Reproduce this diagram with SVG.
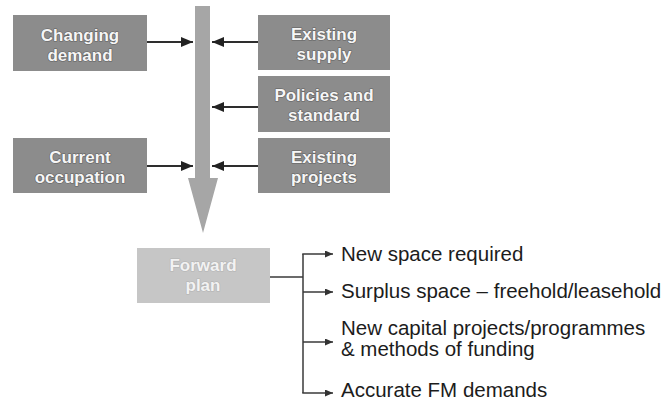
<svg xmlns="http://www.w3.org/2000/svg" width="666" height="402" viewBox="0 0 666 402">
  <style>
    .box { fill: #8c8c8c; }
    .plan { fill: #c6c6c6; }
    .lbl { font-family: "Liberation Sans", Arial, sans-serif; font-weight: bold; font-size: 17px; fill: #f6f6f6; text-anchor: middle; stroke: #5e5e5e; stroke-width: 1.2px; paint-order: stroke; stroke-linejoin: round; }
    .lbl-light { fill: #f2f2f2; stroke: #b2b2b2; }
    .out { font-family: "Liberation Sans", Arial, sans-serif; font-size: 20.5px; fill: #1c1c1c; }
    .feed { stroke: #2e2e2e; stroke-width: 2; fill: none; }
    .branch { stroke: #3a3a3a; stroke-width: 1.5; fill: none; }
  </style>
  <defs>
    <marker id="headBig" viewBox="0 0 12 10" refX="12" refY="5" markerWidth="12" markerHeight="10" markerUnits="userSpaceOnUse" orient="auto">
      <path d="M0,0 L12,5 L0,10 Z" fill="#222"/>
    </marker>
    <marker id="headSmall" viewBox="0 0 8 7" refX="8" refY="3.5" markerWidth="8" markerHeight="7" markerUnits="userSpaceOnUse" orient="auto">
      <path d="M0,0 L8,3.5 L0,7 Z" fill="#333"/>
    </marker>
  </defs>

  <rect width="666" height="402" fill="#ffffff"/>

  <!-- central flow arrow -->
  <g id="flow-arrow">
    <polygon points="195,6 210,6 210,178 218,178 203,233 188,178 195,178" fill="#a6a6a6"/>
  </g>

  <!-- input factors -->
  <g id="changing-demand">
    <rect class="box" x="13" y="15" width="134" height="56"/>
    <text class="lbl" x="80" y="41">Changing</text>
    <text class="lbl" x="80" y="61">demand</text>
  </g>
  <g id="current-occupation">
    <rect class="box" x="13" y="138" width="134" height="55"/>
    <text class="lbl" x="80" y="163">Current</text>
    <text class="lbl" x="80" y="183">occupation</text>
  </g>
  <g id="existing-supply">
    <rect class="box" x="258" y="15" width="132" height="55"/>
    <text class="lbl" x="324" y="40">Existing</text>
    <text class="lbl" x="324" y="60">supply</text>
  </g>
  <g id="policies-standard">
    <rect class="box" x="258" y="76" width="132" height="56"/>
    <text class="lbl" x="324" y="101">Policies and</text>
    <text class="lbl" x="324" y="121">standard</text>
  </g>
  <g id="existing-projects">
    <rect class="box" x="258" y="138" width="132" height="55"/>
    <text class="lbl" x="324" y="163">Existing</text>
    <text class="lbl" x="324" y="183">projects</text>
  </g>

  <!-- result -->
  <g id="forward-plan">
    <rect class="plan" x="137" y="248" width="133" height="55"/>
    <text class="lbl lbl-light" x="203" y="271">Forward</text>
    <text class="lbl lbl-light" x="203" y="291">plan</text>
  </g>

  <!-- outcomes -->
  <g id="outcomes">
    <text class="out" x="341" y="261">New space required</text>
    <text class="out" x="341" y="298">Surplus space – freehold/leasehold</text>
    <text class="out" x="341" y="335">New capital projects/programmes</text>
    <text class="out" x="341" y="356">&amp; methods of funding</text>
    <text class="out" x="341" y="397">Accurate FM demands</text>
  </g>

  <g id="connectors">
    <line class="feed" x1="147" y1="42" x2="193" y2="42" marker-end="url(#headBig)"/>
    <line class="feed" x1="258" y1="42" x2="212" y2="42" marker-end="url(#headBig)"/>
    <line class="feed" x1="258" y1="107" x2="212" y2="107" marker-end="url(#headBig)"/>
    <line class="feed" x1="147" y1="166" x2="193" y2="166" marker-end="url(#headBig)"/>
    <line class="feed" x1="258" y1="166" x2="212" y2="166" marker-end="url(#headBig)"/>

    <line class="branch" x1="270" y1="277" x2="303" y2="277"/>
    <line class="branch" x1="303" y1="254" x2="303" y2="393"/>
    <line class="branch" x1="302.25" y1="254" x2="333" y2="254" marker-end="url(#headSmall)"/>
    <line class="branch" x1="303" y1="292" x2="333" y2="292" marker-end="url(#headSmall)"/>
    <line class="branch" x1="303" y1="342" x2="333" y2="342" marker-end="url(#headSmall)"/>
    <line class="branch" x1="302.25" y1="393" x2="333" y2="393" marker-end="url(#headSmall)"/>
  </g>
</svg>
